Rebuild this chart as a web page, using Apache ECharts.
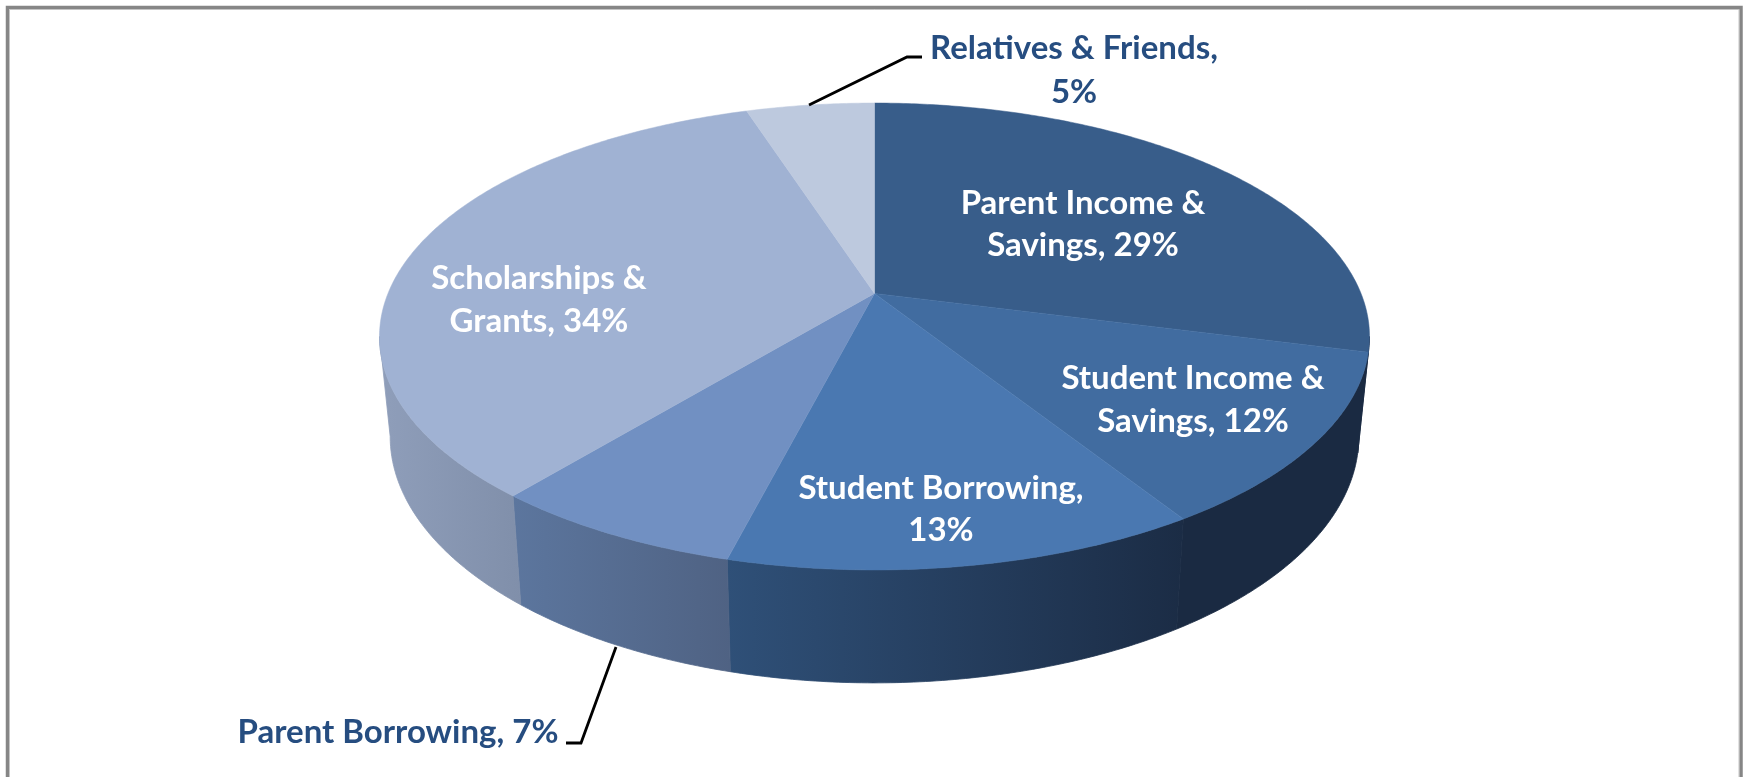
<!DOCTYPE html>
<html><head><meta charset="utf-8">
<style>html,body{margin:0;padding:0;background:#fff}#c{width:1743px;height:777px}</style>
<script src="https://cdn.jsdelivr.net/npm/echarts@6/dist/echarts.min.js"></script>
</head><body><div id="c"></div>
<script>
// ---- data ----
const categories = ['Parent Income & Savings','Student Income & Savings','Student Borrowing','Parent Borrowing','Scholarships & Grants','Relatives & Friends'];
const shares = [29,12,13,7,34,5];
const labelLines = [
  ['Parent Income &','Savings, 29%'],
  ['Student Income &','Savings, 12%'],
  ['Student Borrowing,','13%'],
  ['Parent Borrowing, 7%'],
  ['Scholarships &','Grants, 34%'],
  ['Relatives & Friends,','5%']
];
// ---- styles ----
const topColors = ['#385D8A','#416CA0','#4A78B1','#7190C2','#A0B2D3','#BDC9DE'];
const wallColors = [
  ['#1A2A42','#1A2A42'],['#1A2A42','#1A2A42'],['#2F5078','#1B2C45'],
  ['#5C769E','#4F6283'],['#8F9EBA','#808FAA'],['#BDC9DE','#BDC9DE']
];
const labelPos = [
  [[1083,203],[1083,245]],
  [[1193,378],[1193,421]],
  [[941,488],[941,530]],
  [[398,732]],
  [[539,278],[539,321]],
  [[1074,48],[1074,92]]
];
const labelColor = ['#fff','#fff','#fff','#264D80','#fff','#264D80'];
const leaders = [
  [[922,57],[907,57],[809,105]],
  [[616,647],[581,743],[566,743]]
];
// ---- projection of the tilted disc ----
const CX = 874.5, K = 0.1846;
const TOP = {a:486.5,b:225.5,y0:293.4};
const BOT = {a:476,b:238,y0:391};
function proj(p, th){
  const w = 1 + K*Math.cos(th);
  return [CX + p.a*Math.sin(th)/w, p.y0 - p.b*Math.cos(th)/w];
}
const total = shares.reduce((s,v)=>s+v,0);
function range(i){
  let c = 0; for(let j=0;j<i;j++) c += shares[j];
  return [c/total*2*Math.PI, (c+shares[i])/total*2*Math.PI];
}
const silR = Math.acos(-K), silL = 2*Math.PI - silR;
function arc(p,a,b){
  const n = Math.max(2,Math.ceil(Math.abs(b-a)/0.01)), pts=[];
  for(let i=0;i<=n;i++) pts.push(proj(p,a+(b-a)*i/n));
  return pts;
}
function renderWall(params, api){
  const i = params.dataIndex, r = range(i);
  const a = Math.max(r[0],silR), b = Math.min(r[1],silL);
  if(b<=a) return {type:'group',children:[]};
  const pts = arc(TOP,a,b).concat(arc(BOT,a,b).reverse());
  const cols = wallColors[i];
  const grad = () => new echarts.graphic.LinearGradient(0,0,1,0,[{offset:0,color:cols[0]},{offset:1,color:cols[1]}]);
  return {type:'polygon',shape:{points:pts},style:{fill:grad(),stroke:grad(),lineWidth:0.8}};
}
function renderTop(params, api){
  const i = params.dataIndex, r = range(i);
  const pts = [[CX,TOP.y0]].concat(arc(TOP,r[0],r[1]));
  return {type:'polygon',shape:{points:pts},style:{fill:topColors[i],stroke:topColors[i],lineWidth:0.5}};
}
function renderLabel(params, api){
  const i = params.dataIndex;
  return {type:'group',children:labelLines[i].map((t,j)=>({
    type:'text',
    style:{text:t,x:labelPos[i][j][0],y:labelPos[i][j][1],fill:labelColor[i],
      font:'bold 33px Lato, "Open Sans", sans-serif',align:'center',verticalAlign:'middle'}
  }))};
}
const chart = echarts.init(document.getElementById('c'),null,{renderer:'canvas'});
const seriesData = shares.map((v,i)=>({name:categories[i],value:v}));
chart.setOption({
  animation:false,
  backgroundColor:'#fff',
  graphic:[
    {type:'rect',z:0,shape:{x:7.5,y:7.5,width:1733.5,height:820},style:{fill:'none',stroke:'#868686',lineWidth:3.5}},
    {type:'rect',z:0,shape:{x:9.5,y:9.5,width:1729.5,height:820},style:{fill:'none',stroke:'#C4C4C4',lineWidth:1}}
  ].concat(leaders.map(l=>({type:'polyline',z:5,shape:{points:l},style:{fill:'none',stroke:'#000',lineWidth:2.8}}))),
  series:[
    {type:'custom',coordinateSystem:'none',z:2,renderItem:renderWall,data:seriesData,silent:true},
    {type:'custom',coordinateSystem:'none',z:3,renderItem:renderTop,data:seriesData,silent:true},
    {type:'custom',coordinateSystem:'none',z:4,renderItem:renderLabel,data:seriesData,silent:true}
  ]
});
</script></body></html>
